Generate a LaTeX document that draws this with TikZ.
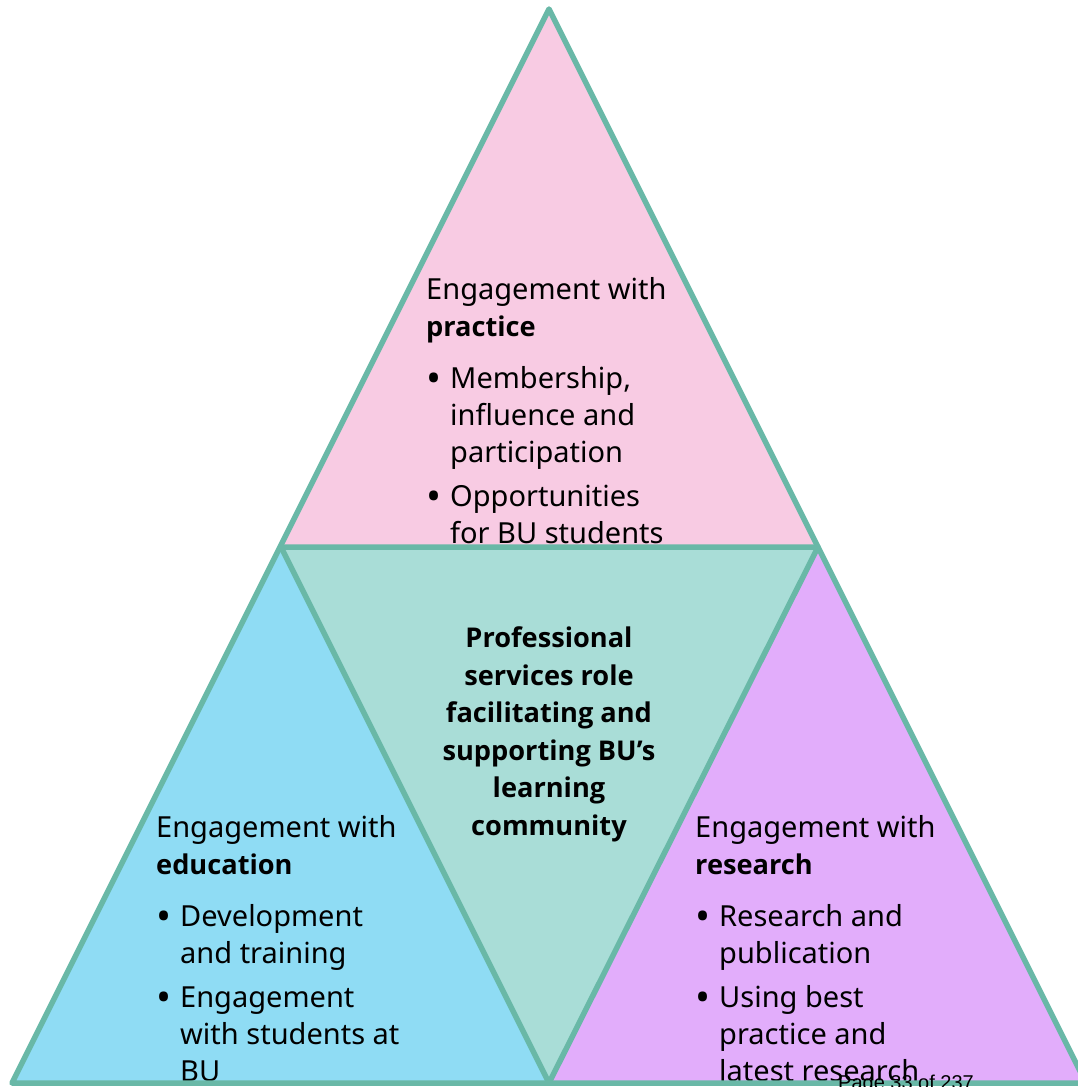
\documentclass[tikz,border=0pt]{standalone}
\usepackage{fontspec}
\setmainfont{Noto Sans}
\newfontfamily\heavyfont{Open Sans}
\newfontfamily\pagefont{Liberation Sans}
\definecolor{edge}{HTML}{69B8A7}
\definecolor{practicefill}{HTML}{F8CBE3}
\definecolor{corefill}{HTML}{A9DDD7}
\definecolor{educationfill}{HTML}{8FDCF4}
\definecolor{researchfill}{HTML}{E2ADFB}
\newcommand{\keyword}[1]{{\heavyfont\bfseries\fontsize{27.2}{37}\selectfont #1}}
\newcommand{\bitem}[1]{\makebox[24pt][l]{\raisebox{-4pt}{\fontsize{40}{37}\selectfont •}}#1}
\newcommand{\bcont}[1]{\hspace*{24pt}#1}
\begin{document}
\begin{tikzpicture}[x=1pt,y=-1pt,
  panel/.style={draw=edge, line width=5.5pt, line join=round},
  body/.style={anchor=base west, align=left, inner sep=0pt,
    font=\fontsize{29}{37}\selectfont},
  core/.style={anchor=base, align=center, inner sep=0pt,
    font=\fontsize{27.2}{37.5}\selectfont\heavyfont\bfseries},
]
\useasboundingbox (0,0) rectangle (1078,1087);
\clip (0,0) rectangle (1078,1087);

% corner points of the pyramid
\coordinate (apex) at (549,9);
\coordinate (ml) at (281,547);
\coordinate (mr) at (818,547);
\coordinate (bl) at (12,1083);
\coordinate (bm) at (549,1083);
\coordinate (br) at (1086,1083);

% the four triangles
\fill[practicefill] (apex) -- (ml) -- (mr) -- cycle;
\fill[educationfill] (ml) -- (bl) -- (bm) -- cycle;
\fill[researchfill] (mr) -- (bm) -- (br) -- cycle;
\fill[corefill] (ml) -- (mr) -- (bm) -- cycle;

% texts (each node is placed by the baseline of its last line)
\node[body] (practice) at (426,543) {Engagement with\\ \keyword{practice}\\[15pt]
  \bitem{Membership,}\\ \bcont{influence and}\\ \bcont{participation}\\[7pt]
  \bitem{Opportunities}\\ \bcont{for BU students}};
\node[body] (education) at (156,1081) {Engagement with\\ \keyword{education}\\[15pt]
  \bitem{Development}\\ \bcont{and training}\\[7pt]
  \bitem{Engagement}\\ \bcont{with students at}\\ \bcont{BU}};
\node[body] (research) at (695,1081) {Engagement with\\ \keyword{research}\\[15pt]
  \bitem{Research and}\\ \bcont{publication}\\[7pt]
  \bitem{Using best}\\ \bcont{practice and}\\ \bcont{latest research}};
\node[core] (role) at (549,835) {Professional\\ services role\\ facilitating and\\
  supporting BU’s\\ learning\\ community};

% outlines
\draw[panel] (apex) -- (bl) -- (br) -- cycle;
\draw[panel] (ml) -- (mr) -- (bm) -- cycle;

% page number
\node[anchor=base west, inner sep=0pt, font=\pagefont\fontsize{20}{24}\selectfont]
  (page) at (838,1089) {Page 33 of 237};
\end{tikzpicture}
\end{document}
